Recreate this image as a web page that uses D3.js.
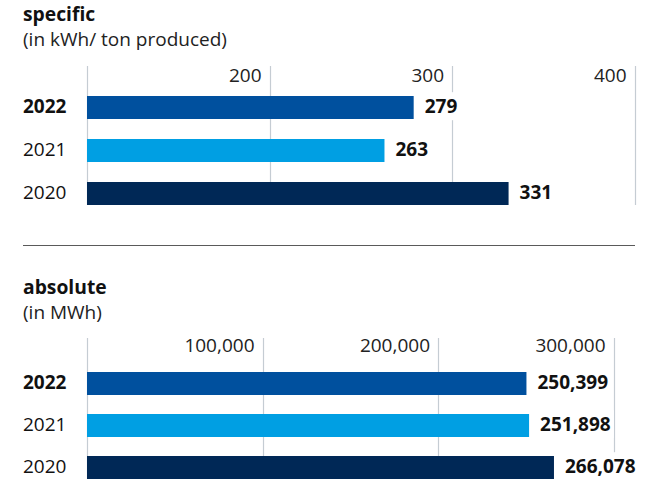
<!DOCTYPE html>
<html>
<head>
<meta charset="utf-8">
<script src="https://cdn.jsdelivr.net/npm/d3@7"></script>
<style>
  html, body { margin: 0; padding: 0; background: #fff; }
  svg { display: block; font-family: "Open Sans", "Noto Sans", sans-serif; }
</style>
</head>
<body>
<svg id="chart" width="659" height="479"></svg>
<script>
// Energy consumption by year
const years = ["2022", "2021", "2020"];
const specificValues = [279, 263, 331];          // kWh per ton produced
const absoluteValues = [250399, 251898, 266078]; // MWh
const specificTicks = [200, 300, 400];
const absoluteTicks = [100000, 200000, 300000];
const yearColors = { "2022": "#00509e", "2021": "#009fe3", "2020": "#002856" };

const svg = d3.select("#chart");
const left = 87;
const fmt = d3.format(",");

// Separator between the two panels
svg.append("line")
  .attr("x1", 23).attr("x2", 635)
  .attr("y1", 245.5).attr("y2", 245.5)
  .attr("stroke", "#5a5a5a").attr("stroke-width", 1);

function panel(opts) {
  const g = svg.append("g");

  g.append("text")
    .attr("x", 23).attr("y", opts.titleY)
    .attr("font-size", 19.3).attr("font-weight", 700).attr("fill", "#111")
    .text(opts.title);
  g.append("text")
    .attr("x", 23).attr("y", opts.titleY + 25)
    .attr("font-size", 19).attr("fill", "#222")
    .text(opts.subtitle);

  const x = d3.scaleLinear().domain(opts.domain).range([left, opts.xMax]);
  const y = d3.scaleBand().domain(years)
    .range(opts.bandRange).paddingInner(opts.padInner).paddingOuter(0);

  // Vertical grid lines, including the baseline at the domain start
  const gridVals = [opts.domain[0]].concat(opts.ticks);
  g.selectAll(".grid").data(gridVals).enter().append("line")
    .attr("x1", d => Math.round(x(d)) + 0.5)
    .attr("x2", d => Math.round(x(d)) + 0.5)
    .attr("y1", opts.gridTop).attr("y2", opts.gridBottom)
    .attr("stroke", "#c5ccd3").attr("stroke-width", 1.2);

  // Tick labels, right-aligned against their grid line
  g.selectAll(".tick").data(opts.ticks).enter().append("text")
    .attr("x", d => x(d) - 8).attr("y", opts.tickY)
    .attr("text-anchor", "end")
    .attr("font-size", 19).attr("fill", "#222")
    .text(d => opts.tickFmt(d));

  const rows = years.map((yr, i) => ({ year: yr, value: opts.values[i] }));

  g.selectAll(".bar").data(rows).enter().append("rect")
    .attr("x", x(opts.domain[0]))
    .attr("y", d => y(d.year))
    .attr("width", d => x(d.value) - x(opts.domain[0]))
    .attr("height", y.bandwidth())
    .attr("fill", d => yearColors[d.year]);

  // Year labels on the left (current year in bold)
  g.selectAll(".year").data(rows).enter().append("text")
    .attr("x", 23)
    .attr("y", d => y(d.year) + y.bandwidth() / 2)
    .attr("dy", "0.3em")
    .attr("font-size", 19)
    .attr("font-weight", d => d.year === "2022" ? 700 : 400)
    .attr("fill", "#111")
    .text(d => d.year);

  // Value labels with a white knock-out behind them
  const labels = g.selectAll(".val").data(rows).enter().append("g");
  const txt = labels.append("text")
    .attr("x", d => x(d.value) + 11)
    .attr("y", d => y(d.year) + y.bandwidth() / 2)
    .attr("dy", "0.3em")
    .attr("font-size", 19).attr("font-weight", 700).attr("fill", "#111")
    .text(d => opts.valFmt(d.value));
  txt.each(function () {
    const b = this.getBBox();
    d3.select(this.parentNode).insert("rect", "text")
      .attr("x", b.x - 3).attr("y", b.y - 1)
      .attr("width", b.width + 6).attr("height", b.height + 2)
      .attr("fill", "#fff");
  });
}

panel({
  title: "specific", subtitle: "(in kWh/ ton produced)", titleY: 21,
  domain: [100, 400], xMax: 634.5, ticks: specificTicks, values: specificValues,
  tickFmt: d => d, valFmt: d => d,
  bandRange: [96, 205], padInner: 20 / 43,
  gridTop: 66, gridBottom: 205, tickY: 82
});

panel({
  title: "absolute", subtitle: "(in MWh)", titleY: 294,
  domain: [0, 300000], xMax: 613.5, ticks: absoluteTicks, values: absoluteValues,
  tickFmt: fmt, valFmt: fmt,
  bandRange: [372, 479], padInner: 19 / 42,
  gridTop: 338, gridBottom: 479, tickY: 352
});
</script>
</body>
</html>
